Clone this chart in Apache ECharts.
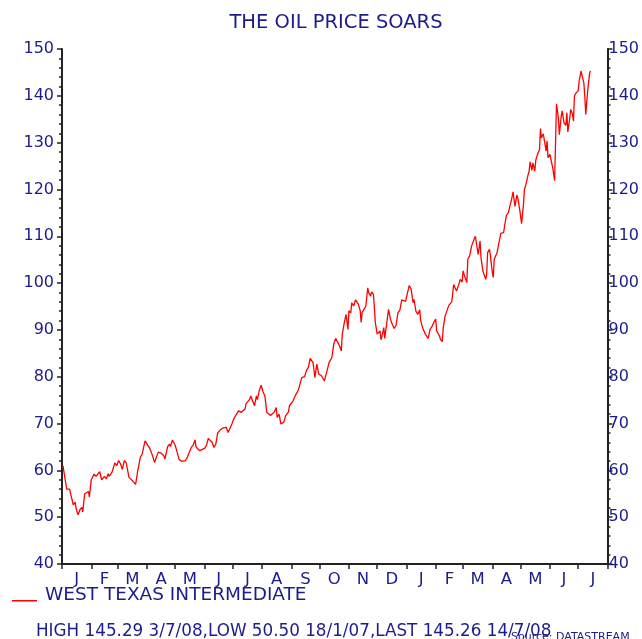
<!DOCTYPE html>
<html>
<head>
<meta charset="utf-8">
<title>The oil price soars</title>
<script src="https://cdn.jsdelivr.net/npm/echarts@6/dist/echarts.min.js"></script>
<style>
  html, body { margin: 0; padding: 0; background: #fff; }
  #chart { width: 642px; height: 639px; }
</style>
</head>
<body>
<div id="chart"></div>
<script>
// day offsets from 1 Jan 2007
const days = [
  1, 5, 6, 8, 12, 14, 15, 17, 19, 21,
  22, 24, 26, 28, 29, 31, 32, 34, 36, 38,
  40, 42, 45, 47, 49, 50, 53, 56, 58, 60,
  62, 64, 66, 68, 71, 73, 76, 78, 80, 83,
  85, 88, 90, 93, 94, 96, 98, 100, 102, 105,
  108, 109, 112, 114, 115, 117, 120, 122, 124, 127,
  129, 131, 133, 135, 137, 139, 141, 142, 144, 146,
  148, 151, 153, 155, 157, 159, 161, 163, 165, 167,
  170, 172, 174, 176, 178, 180, 182, 184, 186, 187,
  190, 192, 194, 195, 197, 199, 200, 202, 204, 206,
  207, 209, 211, 213, 215, 217, 219, 221, 223, 225,
  227, 228, 230, 232, 234, 235, 237, 240, 241, 243,
  245, 247, 249, 251, 254, 257, 259, 261, 263, 266,
  268, 270, 272, 275, 277, 278, 280, 283, 286, 288,
  290, 292, 294, 296, 297, 299, 301, 303, 304, 306,
  307, 309, 311, 313, 314, 316, 317, 318, 320, 322,
  323, 324, 325, 327, 328, 330, 331, 332, 334, 335,
  337, 338, 339, 341, 342, 344, 346, 348, 350, 352,
  354, 356, 358, 360, 362, 364, 365, 368, 370, 372,
  373, 375, 377, 379, 380, 382, 384, 385, 387, 388,
  390, 392, 394, 396, 397, 399, 400, 401, 403, 404,
  406, 408, 410, 412, 413, 415, 416, 418, 420, 421,
  422, 424, 425, 426, 427, 429, 430, 432, 433, 434,
  436, 438, 440, 441, 443, 444, 446, 447, 449, 450,
  451, 453, 454, 456, 457, 458, 460, 461, 463, 465,
  468, 469, 471, 473, 475, 476, 478, 480, 482, 483,
  485, 487, 489, 490, 492, 494, 495, 496, 498, 499,
  501, 502, 504, 506, 507, 508, 510, 511, 513, 514,
  515, 517, 518, 520, 522, 523, 524, 526, 527, 529,
  530, 532, 533, 534, 535, 536, 538, 539, 541, 542,
  543, 544, 546, 547, 548, 550, 551, 553, 554, 555,
  556, 557, 559, 560
]

// WTI price, $ per barrel
const prices = [
  61.0, 56.0, 56.4, 56.0, 52.6, 53.2, 51.8, 50.5, 51.6, 52.1,
  51.1, 55.0, 54.6, 55.5, 54.3, 58.0, 57.6, 59.2, 58.7, 58.9,
  59.7, 58.0, 58.7, 58.2, 59.3, 58.7, 59.6, 61.6, 61.0, 62.1,
  61.4, 60.2, 62.1, 61.6, 58.5, 58.2, 57.5, 57.0, 59.6, 62.8,
  63.5, 66.3, 66.1, 64.7, 64.2, 63.1, 61.7, 61.9, 63.9, 63.7,
  63.1, 62.4, 65.1, 65.6, 65.1, 66.5, 65.3, 63.9, 62.4, 61.9,
  62.3, 62.1, 62.9, 63.1, 64.9, 65.4, 66.5, 65.0, 65.1, 64.2,
  63.9, 64.7, 65.3, 66.8, 67.1, 66.0, 64.9, 65.6, 68.0, 68.5,
  69.0, 68.8, 69.2, 68.1, 69.0, 69.9, 71.0, 71.7, 71.9, 72.7,
  72.4, 72.6, 73.1, 74.2, 74.4, 75.2, 75.9, 75.6, 73.8, 75.9,
  75.1, 77.0, 78.2, 76.8, 75.9, 72.4, 72.2, 71.7, 71.8, 72.5,
  73.4, 71.3, 72.0, 69.9, 69.5, 70.3, 71.7, 72.5, 73.8, 74.0,
  74.9, 75.9, 76.6, 77.5, 79.8, 80.0, 81.3, 82.0, 83.9, 83.0,
  79.8, 82.7, 80.6, 80.2, 80.3, 79.1, 80.6, 83.0, 84.1, 87.0,
  88.2, 88.0, 86.6, 85.5, 89.1, 91.4, 93.3, 90.1, 94.1, 93.6,
  95.8, 95.1, 96.4, 96.2, 95.5, 94.1, 91.6, 93.7, 94.4, 95.1,
  97.2, 99.0, 97.9, 97.2, 98.1, 97.6, 94.8, 91.6, 89.1, 88.9,
  89.8, 87.9, 88.6, 90.5, 88.2, 88.6, 94.4, 92.3, 91.2, 90.3,
  91.0, 93.7, 94.2, 96.4, 96.0, 96.1, 96.0, 99.5, 98.7, 95.8,
  96.5, 94.0, 93.3, 94.3, 92.1, 90.5, 90.7, 89.1, 89.4, 88.2,
  90.1, 90.7, 91.6, 92.3, 89.8, 90.0, 88.7, 88.0, 87.5, 90.5,
  93.0, 93.3, 95.3, 95.7, 96.0, 99.7, 100.1, 98.3, 99.4, 99.5,
  100.8, 100.2, 102.6, 101.9, 102.2, 100.1, 105.1, 105.8, 105.8, 107.9,
  109.0, 110.0, 109.9, 106.1, 109.0, 105.4, 102.6, 102.4, 100.8, 101.9,
  106.5, 107.2, 105.8, 102.2, 101.2, 105.1, 104.7, 106.5, 108.6, 110.6,
  110.8, 112.2, 114.5, 115.0, 116.8, 117.5, 119.5, 116.4, 118.8, 118.2,
  115.7, 112.7, 116.8, 120.0, 121.4, 123.2, 123.9, 125.9, 124.1, 125.7,
  123.9, 126.2, 127.6, 128.5, 133.0, 131.0, 131.9, 131.7, 128.2, 130.4,
  126.8, 127.5, 127.3, 124.6, 121.9, 130.0, 138.3, 135.3, 131.7, 135.6,
  136.8, 134.2, 133.9, 133.7, 136.4, 132.3, 135.1, 137.1, 136.1, 134.6,
  139.9, 140.4, 140.4, 141.1, 143.2, 145.3, 144.4, 142.7, 139.9, 136.0,
  135.6, 141.0, 144.7, 145.3
]

// month boundaries (days from 1 Jan 2007) and their labels
const monthStarts = [0, 31, 59, 90, 120, 151, 181, 212, 243, 273, 304, 334,
  365, 396, 425, 456, 486, 517, 547, 578]
const monthLetters = ['J', 'F', 'M', 'A', 'M', 'J', 'J', 'A', 'S', 'O', 'N', 'D',
  'J', 'F', 'M', 'A', 'M', 'J', 'J']
const monthMids = monthLetters.map((m, i) => (monthStarts[i] + monthStarts[i + 1]) / 2)

const yMin = 40
const yMax = 150
const yStep = 10

const seriesName = 'WEST TEXAS INTERMEDIATE'
const statsText = 'HIGH 145.29 3/7/08,LOW 50.50 18/1/07,LAST 145.26 14/7/08'

const navy = '#1c1c8a'
const font = 'DejaVu Sans, sans-serif'

const chart = echarts.init(document.getElementById('chart'))

const yAxisBase = {
  type: 'value',
  min: yMin,
  max: yMax,
  interval: yStep,
  axisLine: { show: true, lineStyle: { color: '#222', width: 2 } },
  axisTick: { show: true, length: 5, lineStyle: { color: '#222', width: 1.5 } },
  minorTick: { show: true, splitNumber: 5, length: 3, lineStyle: { color: '#222', width: 1.5 } },
  splitLine: { show: false },
  axisLabel: {
    color: navy,
    fontSize: 16,
    fontFamily: font,
    padding: [0, 0, 8, 0]
  }
}

chart.setOption({
  animation: false,
  title: {
    text: 'THE OIL PRICE SOARS',
    left: 331,
    top: 8,
    textAlign: 'center',
    textStyle: { color: navy, fontSize: 19.5, fontWeight: 'normal', fontFamily: font }
  },
  legend: {
    left: 12,
    top: 586,
    padding: 0,
    // line sits low beside the text, as in the original key
    icon: 'path://M0,0L0,0.3M0,10.5L25,10.5L25,12L0,12Z',
    itemWidth: 25,
    itemHeight: 12,
    data: [seriesName],
    textStyle: { color: navy, fontSize: 18.5, fontFamily: font, padding: [0, 0, 0, 3] }
  },
  grid: { left: 62, right: 32, top: 49, bottom: 75 },
  xAxis: {
    type: 'value',
    min: monthStarts[0],
    max: monthStarts[monthStarts.length - 1],
    axisLine: { show: true, lineStyle: { color: '#222', width: 2 } },
    axisTick: { show: true, length: 5, customValues: monthStarts, lineStyle: { color: '#222', width: 1.5 } },
    splitLine: { show: false },
    axisLabel: {
      customValues: monthMids,
      color: navy,
      fontSize: 16.5,
      fontFamily: font,
      margin: 7,
      formatter: (value) => {
        const i = monthMids.indexOf(value)
        return i >= 0 ? monthLetters[i] : ''
      }
    }
  },
  yAxis: [
    Object.assign({}, yAxisBase, { position: 'left', axisLabel: Object.assign({}, yAxisBase.axisLabel, { margin: 8 }) }),
    Object.assign({}, yAxisBase, { position: 'right', axisLabel: Object.assign({}, yAxisBase.axisLabel, { margin: 1 }) })
  ],
  series: [
    {
      name: seriesName,
      type: 'line',
      yAxisIndex: 0,
      showSymbol: false,
      symbol: 'none',
      lineStyle: { color: '#ff0000', width: 1.3 },
      itemStyle: { color: '#ff0000' },
      data: days.map((d, i) => [d, prices[i]])
    }
  ],
  graphic: [
    {
      type: 'text',
      left: 36,
      top: 623,
      style: { text: statsText, fill: navy, fontSize: 16.8, fontFamily: font }
    },
    {
      type: 'text',
      left: 511,
      top: 632,
      style: { text: 'Source: DATASTREAM', fill: navy, fontSize: 11, fontFamily: font }
    }
  ]
})

window.addEventListener('resize', () => chart.resize())
</script>
</body>
</html>
